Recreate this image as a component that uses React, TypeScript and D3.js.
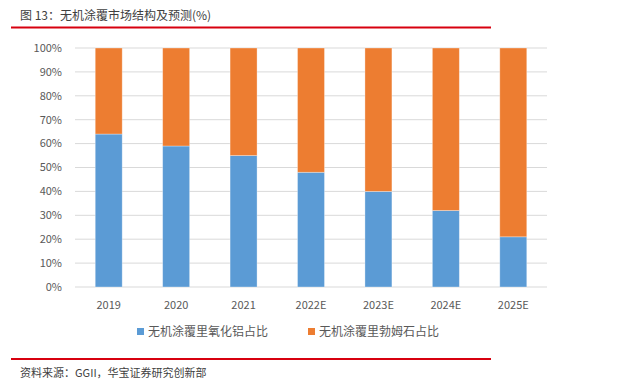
import React from 'react';
import * as d3 from 'd3';

const years = ['2019', '2020', '2021', '2022E', '2023E', '2024E', '2025E'];
const aluminaShare = [64, 59, 55, 48, 40, 32, 21];
const boehmiteShare = [36, 41, 45, 52, 60, 68, 79];
const yTicks = [0, 10, 20, 30, 40, 50, 60, 70, 80, 90, 100];
const seriesNames = ['无机涂覆里氧化铝占比', '无机涂覆里勃姆石占比'];
const seriesColors = ['#5B9BD5', '#ED7D31'];

const W = 641;
const H = 391;
const plot = { left: 75, right: 547, top: 48, bottom: 287 };
const font = '"Noto Sans CJK SC", "Noto Sans", sans-serif';

const App: React.FC = () => {
  const x = d3.scaleBand<string>()
    .domain(years)
    .range([plot.left, plot.right])
    .paddingInner(0.6)
    .paddingOuter(0.3);

  const y = d3.scaleLinear()
    .domain([0, 100])
    .range([plot.bottom, plot.top]);

  const rows = years.map((yr, i) => ({ year: yr, a: aluminaShare[i], b: boehmiteShare[i] }));
  const stacked = d3.stack<{ year: string; a: number; b: number }>().keys(['a', 'b'])(rows);

  return (
    <svg width={W} height={H} style={{ position: 'absolute', left: 0, top: 0, background: '#fff' }}>
      {/* title */}
      <text x={20} y={20} fontFamily={font} fontSize={12} fill="#404040">
        图 13：无机涂覆市场结构及预测(%)
      </text>
      <rect x={11} y={26.5} width={480} height={2} fill="#D7000F" />

      {/* grid */}
      {yTicks.map(t => (
        <line key={t} x1={plot.left} x2={plot.right} y1={y(t)} y2={y(t)} stroke="#D9D9D9" strokeWidth={1} />
      ))}
      {yTicks.map(t => (
        <text key={'l' + t} x={62} y={y(t)} dy="0.35em" textAnchor="end" fontFamily={font} fontSize={11} fill="#595959">
          {t}%
        </text>
      ))}

      {/* bars */}
      {stacked.map((s, si) => (
        <g key={si} fill={seriesColors[si]}>
          {s.map(d => (
            <rect
              key={d.data.year}
              x={x(d.data.year)}
              y={y(d[1])}
              width={x.bandwidth()}
              height={y(d[0]) - y(d[1])}
              stroke="#fff"
              strokeOpacity={0.4}
              strokeWidth={0.8}
            />
          ))}
        </g>
      ))}

      {/* x labels */}
      {years.map(yr => (
        <text key={yr} x={(x(yr) as number) + x.bandwidth() / 2} y={309} textAnchor="middle" fontFamily={font} fontSize={11} fill="#595959">
          {yr}
        </text>
      ))}

      {/* legend */}
      {seriesNames.map((n, i) => {
        const lx = i === 0 ? 137 : 308;
        return (
          <g key={n}>
            <rect x={lx} y={328} width={7} height={7} fill={seriesColors[i]} />
            <text x={lx + 11} y={335.5} fontFamily={font} fontSize={12} fill="#595959">{n}</text>
          </g>
        );
      })}

      {/* footer */}
      <rect x={11} y={358} width={480} height={2} fill="#D7000F" />
      <text x={20} y={377} fontFamily={font} fontSize={11} fill="#404040">
        资料来源：GGII，华宝证券研究创新部
      </text>
    </svg>
  );
};

export default App;
